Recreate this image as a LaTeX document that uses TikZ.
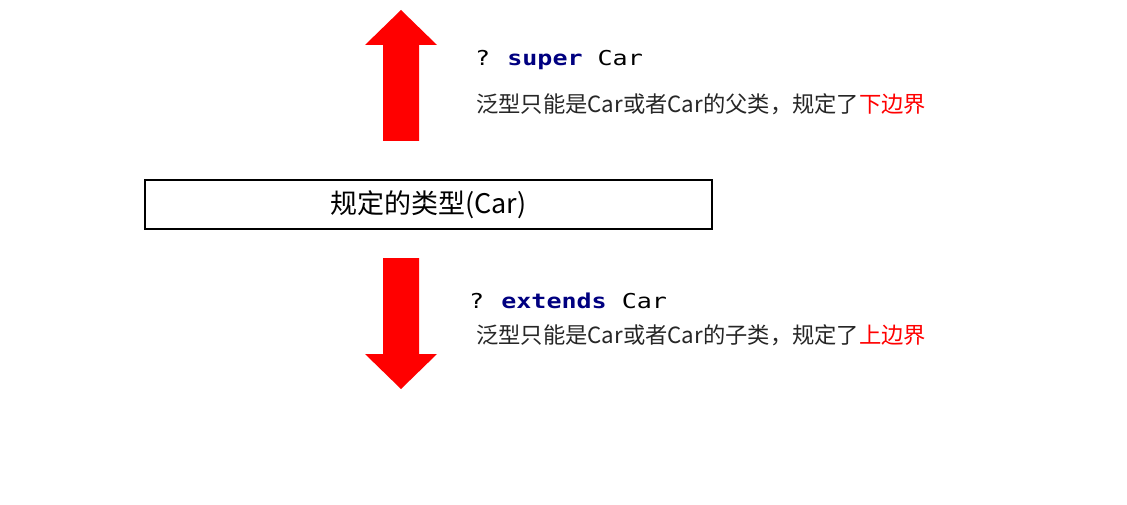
\documentclass[tikz,border=0pt]{standalone}
\usepackage{fontspec}
\usepackage{tikz}
\usetikzlibrary{positioning}
\newfontfamily\cjk{Noto Sans CJK SC}
\newfontfamily\codefont[FakeStretch=1.22]{DejaVu Sans Mono}
\definecolor{boundRed}{RGB}{255,0,0}
\definecolor{kwNavy}{RGB}{0,0,128}
\definecolor{noteGray}{RGB}{38,38,38}
\tikzset{
  typebox/.style={draw=black, line width=1.3pt, minimum width=567pt, minimum height=49pt,
                  inner sep=0pt, font=\cjk\fontsize{27}{31}\selectfont},
  code/.style={anchor=base west, inner sep=0pt, font=\codefont\fontsize{20.5}{24}\selectfont},
  note/.style={anchor=base west, inner sep=0pt, text=noteGray, font=\cjk\fontsize{22.3}{26}\selectfont},
  bigarrow/.style={fill=boundRed, draw=none}
}
\newcommand{\kw}[1]{\textcolor{kwNavy}{\bfseries #1}}

\begin{document}
\begin{tikzpicture}[x=1pt, y=-1pt]
\useasboundingbox (0,0) rectangle (1127,505);
% upper bound / lower bound arrows
\fill[bigarrow] (401,10) -- (437,45) -- (419,45) -- (419,141) -- (383,141) -- (383,45) -- (365,45) -- cycle;
\fill[bigarrow] (401,389) -- (437,354) -- (419,354) -- (419,258) -- (383,258) -- (383,354) -- (365,354) -- cycle;
% the given type
\node[typebox] (type) at (428.5,204.5) {规定的类型(Car)};
% super
\node[code] (superCode) at (475,66) {?\hspace{-3pt} \kw{super} Car};
\node[note] (superNote) at (476,113) {泛型只能是Car或者Car的父类，规定了\textcolor{boundRed}{下边界}};
% extends
\node[code] (extendsCode) at (469,308) {?\hspace{-3pt} \kw{extends} Car};
\node[note] (extendsNote) at (476,343) {泛型只能是Car或者Car的子类，规定了\textcolor{boundRed}{上边界}};
\end{tikzpicture}
\end{document}
